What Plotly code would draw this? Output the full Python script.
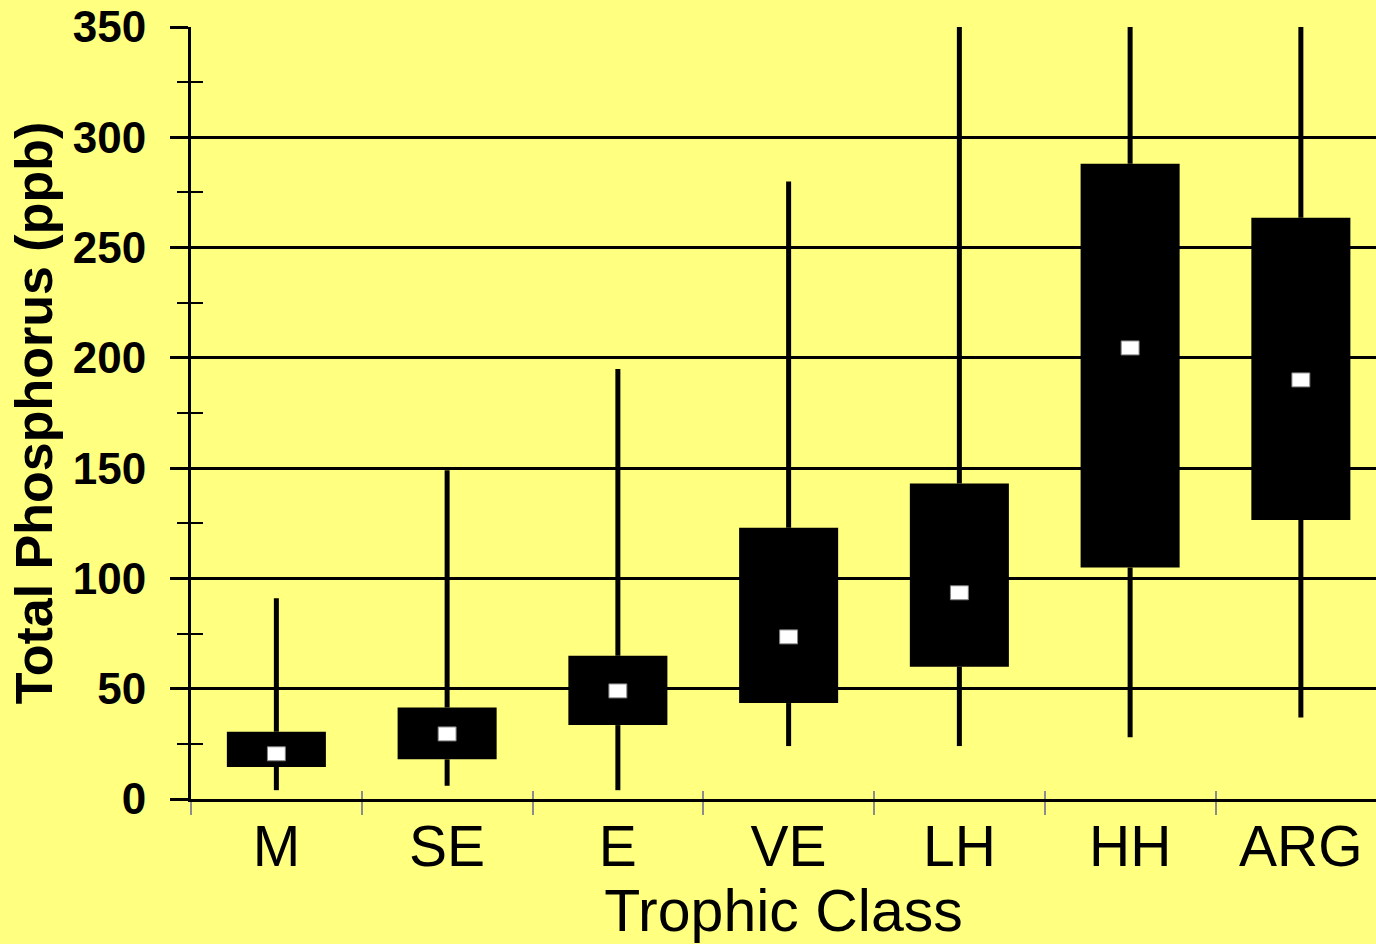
import plotly.graph_objects as go

categories = ["M", "SE", "E", "VE", "LH", "HH", "ARG"]
whisker_low = [4, 6, 4, 24, 24, 28, 37]
q1 = [14.5, 18, 33.5, 43.5, 60, 105, 126.5]
median = [20.5, 29.5, 49, 73.5, 93.5, 204.5, 190]
q3 = [30.5, 41.5, 65, 123, 143, 288, 263.5]
whisker_high = [91, 149, 195, 280, 400, 400, 400]

BG = "#FFFF80"
FONT = "Liberation Sans, Arial, sans-serif"

W, H = 1376, 944
ML, MR, MT, MB = 191, 0, 27, 145
Y_RANGE = [0, 350]
px_per_unit = (H - MT - MB) / (Y_RANGE[1] - Y_RANGE[0])
med_h = 14 / px_per_unit

fig = go.Figure()

# boxes
fig.add_trace(go.Bar(
    x=categories, y=[b - a for a, b in zip(q1, q3)], base=q1,
    width=0.58, marker=dict(color="black", line=dict(width=0)),
    showlegend=False, hoverinfo="skip"))

# median markers
fig.add_trace(go.Bar(
    x=categories, y=[med_h] * len(categories), base=[m - med_h / 2 for m in median],
    width=0.105, marker=dict(color="white", line=dict(color="#808080", width=1)),
    showlegend=False, hoverinfo="skip"))

# whiskers (split so they don't cross the median mark)
wx, wy = [], []
for c, lo, a, b, hi in zip(categories, whisker_low, q1, q3, whisker_high):
    wx += [c, c, None, c, c, None]
    wy += [lo, a, None, b, hi, None]
fig.add_trace(go.Scatter(x=wx, y=wy, mode="lines",
                         line=dict(color="black", width=5),
                         showlegend=False, hoverinfo="skip"))

# invisible trace for overlay axes
fig.add_trace(go.Scatter(x=categories, y=median, xaxis="x2", yaxis="y2",
                         mode="markers", marker=dict(opacity=0),
                         showlegend=False, hoverinfo="skip"))

x_range = [-0.5, 6.44]

fig.update_layout(
    width=W, height=H,
    margin=dict(l=ML, r=MR, t=MT, b=MB, autoexpand=False),
    paper_bgcolor=BG, plot_bgcolor=BG,
    barmode="overlay",
    font=dict(family=FONT, color="black"),
    xaxis=dict(
        type="category", categoryorder="array", categoryarray=categories,
        range=x_range, tickson="boundaries",
        ticks="outside", ticklen=13, tickwidth=2, tickcolor="#8c8c8c",
        showline=True, linecolor="black", linewidth=3,
        showgrid=False, zeroline=False,
        tickfont=dict(size=57, family=FONT),
        ticklabelstandoff=-4,
        title=dict(text="Trophic Class", font=dict(size=59, family=FONT), standoff=2),
        automargin=False,
    ),
    xaxis2=dict(
        type="category", categoryorder="array", categoryarray=categories,
        range=x_range, tickson="boundaries", overlaying="x", anchor="y",
        ticks="inside", ticklen=8, tickwidth=2, tickcolor="#8c8c8c",
        showticklabels=False, showgrid=False, zeroline=False, showline=False,
    ),
    yaxis=dict(
        range=Y_RANGE, tick0=0, dtick=50,
        ticks="outside", ticklen=18, tickwidth=3, tickcolor="black",
        showgrid=True, gridcolor="black", gridwidth=3,
        showline=True, linecolor="black", linewidth=3,
        zeroline=False,
        minor=dict(dtick=25, ticks="outside", ticklen=11, tickwidth=2, tickcolor="black", showgrid=False),
        tickfont=dict(size=44, family=FONT, weight="bold"),
        ticklabelstandoff=15,
        title=dict(text="Total Phosphorus (ppb)", font=dict(size=52, family=FONT, weight="bold"), standoff=4),
        automargin=False,
    ),
    yaxis2=dict(
        range=Y_RANGE, overlaying="y", anchor="x", side="left",
        tickvals=[25, 75, 125, 175, 225, 275, 325],
        ticks="inside", ticklen=12, tickwidth=2, tickcolor="black",
        showticklabels=False, showgrid=False, zeroline=False, showline=False,
    ),
)

fig.write_html(
    "out.html",
    config={"displayModeBar": False},
    post_script="document.body.style.margin='0';document.body.style.overflow='hidden';",
)
